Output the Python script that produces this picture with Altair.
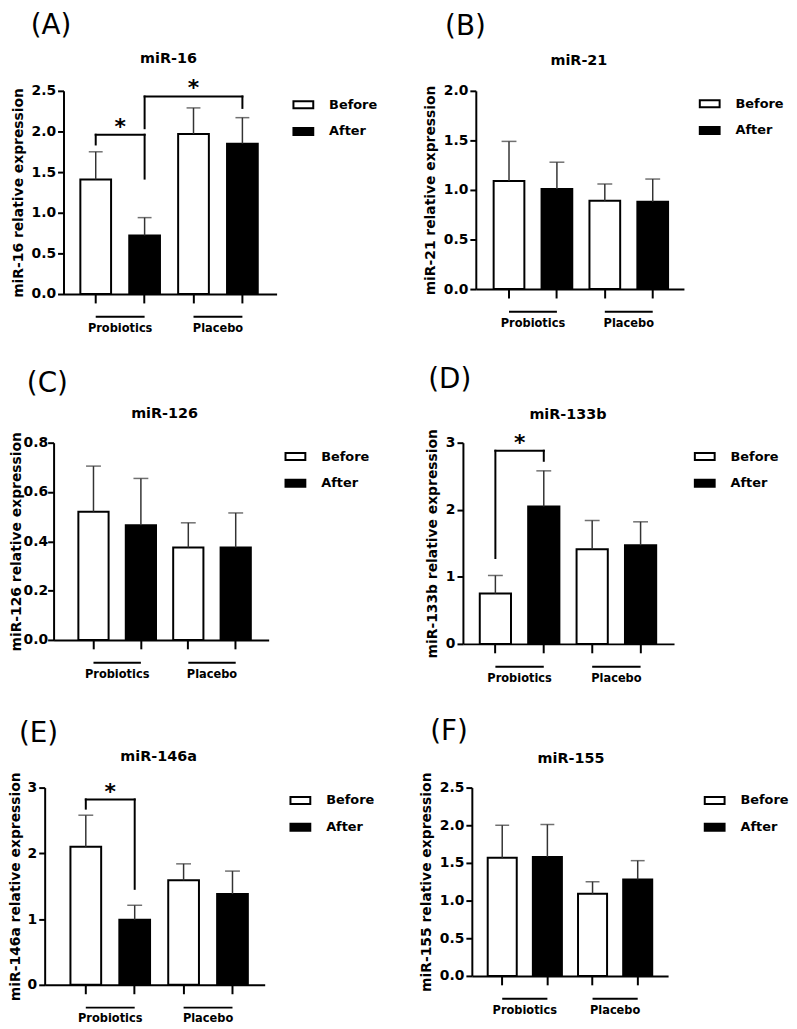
import altair as alt
import pandas as pd

FONT = "DejaVu Sans"

groups = ["Probiotics", "Placebo"]
times = ["Before", "After"]
keys = ["Probiotics|Before", "Probiotics|After", "Placebo|Before", "Placebo|After"]

panel_letters = ["(A)", "(B)", "(C)", "(D)", "(E)", "(F)"]
mirnas = ["miR-16", "miR-21", "miR-126", "miR-133b", "miR-146a", "miR-155"]

# mean and upper error (SEM) per bar: Prob-Before, Prob-After, Plac-Before, Plac-After
mean_16 = [1.41, 0.72, 1.97, 1.85]
err_16 = [0.34, 0.22, 0.32, 0.32]
mean_21 = [1.09, 1.01, 0.89, 0.88]
err_21 = [0.40, 0.27, 0.17, 0.23]
mean_126 = [0.52, 0.465, 0.375, 0.375]
err_126 = [0.185, 0.19, 0.10, 0.14]
mean_133b = [0.75, 2.05, 1.41, 1.47]
err_133b = [0.27, 0.53, 0.43, 0.35]
mean_146a = [2.10, 0.99, 1.59, 1.38]
err_146a = [0.48, 0.22, 0.25, 0.35]
mean_155 = [1.57, 1.58, 1.09, 1.28]
err_155 = [0.43, 0.43, 0.16, 0.25]

ticks_16 = [0, 0.5, 1.0, 1.5, 2.0, 2.5]
ticks_21 = [0, 0.5, 1.0, 1.5, 2.0]
ticks_126 = [0, 0.2, 0.4, 0.6, 0.8]
ticks_133b = [0, 1, 2, 3]
ticks_146a = [0, 1, 2, 3]
ticks_155 = [0, 0.5, 1.0, 1.5, 2.0, 2.5]

# significance brackets: (from, to, left start, top, right end, star level)
brackets_16 = [("Probiotics|Before", "Probiotics|After", 1.84, 1.96, 1.42, 2.12),
               ("Probiotics|After", "Placebo|After", 2.04, 2.43, 2.29, 2.60)]
brackets_21 = []
brackets_126 = []
brackets_133b = [("Probiotics|Before", "Probiotics|After", 1.28, 2.88, 2.73, 3.07)]
brackets_146a = [("Probiotics|Before", "Probiotics|After", 2.68, 2.82, 1.46, 3.01)]
brackets_155 = []

means = [mean_16, mean_21, mean_126, mean_133b, mean_146a, mean_155]
errs = [err_16, err_21, err_126, err_133b, err_146a, err_155]
ticks = [ticks_16, ticks_21, ticks_126, ticks_133b, ticks_146a, ticks_155]
brackets = [brackets_16, brackets_21, brackets_126, brackets_133b, brackets_146a, brackets_155]
formats = [".1f", ".1f", ".1f", "d", "d", ".1f"]

# layout / style per panel (pixels); s = inward shift of the y axis inside the panel
layouts = [
    dict(W=215, H=205, s=19, bw=31, L=17, R=19, lx=-33, ly=-65, tx=106, ty=-32, legx=231, legy=3, tpad=6, lpad=2, cap=14),
    dict(W=210, H=200, s=0, bw=31, L=18, R=16, lx=-31, ly=-64, tx=104, ty=-30, legx=225, legy=2, tpad=6, lpad=2, cap=15),
    dict(W=217, H=199, s=9, bw=30.5, L=25, R=18, lx=-27, ly=-59, tx=112, ty=-29, legx=233, legy=3, tpad=0, lpad=0, cap=15),
    dict(W=213, H=203, s=0, bw=31.5, L=17, R=18, lx=-35, ly=-63, tx=106, ty=-28, legx=233, legy=3, tpad=6, lpad=2, cap=15),
    dict(W=222, H=199, s=0, bw=31, L=26, R=17, lx=-26, ly=-54, tx=115, ty=-31, legx=247, legy=2, tpad=5, lpad=2, cap=15),
    dict(W=198, H=190, s=0, bw=29.3, L=16, R=16, lx=-42, ly=-56, tx=100, ty=-29, legx=234, legy=2, tpad=6, lpad=2, cap=14),
]


def make_panel(i):
    name = mirnas[i]
    lay = layouts[i]
    W, H, s, bw, L, R = lay["W"], lay["H"], lay["s"], lay["bw"], lay["L"], lay["R"]
    g = (W - L - R - 4 * bw) / 3.0
    step = bw + g
    pi = g / step
    po = (L + R) / (2 * step)
    al = L / (L + R)

    df = pd.DataFrame({
        "key": keys,
        "group": [k.split("|")[0] for k in keys],
        "time": [k.split("|")[1] for k in keys],
        "mean": means[i],
        "upper": [m + e for m, e in zip(means[i], errs[i])],
    })
    gdf = pd.DataFrame({"group": groups, "k1": [keys[0], keys[2]], "k2": [keys[1], keys[3]]})
    tdf = pd.DataFrame({"letter": [panel_letters[i]], "title": [name]})

    ytitle = f"{name} relative expression"
    xscale = alt.Scale(domain=keys, paddingInner=pi, paddingOuter=po, align=al, range=[s, s + W])
    yscale = alt.Scale(domain=[ticks[i][0], ticks[i][-1]], nice=False, zero=True)
    xaxis = alt.Axis(labels=False, title=None, ticks=True, tickSize=9, tickWidth=2,
                     domainWidth=2, domainColor="black", tickColor="black", grid=False)
    yaxis = alt.Axis(values=ticks[i], format=formats[i], tickSize=6, tickWidth=2, domainWidth=2,
                     offset=-s, labelPadding=lay["lpad"], titlePadding=lay["tpad"],
                     labelFontSize=14, titleFontSize=14,
                     labelFont=FONT, titleFont=FONT, labelFontWeight="bold", titleFontWeight="bold",
                     labelColor="black", titleColor="black", domainColor="black", tickColor="black",
                     grid=False, title=ytitle)

    def X(field, **kw):
        return alt.X(f"{field}:N", scale=xscale, axis=xaxis, title=None, **kw)

    def Y(field):
        return alt.Y(f"{field}:Q", scale=yscale, axis=yaxis, title=ytitle)

    base = alt.Chart(df)
    bars = base.mark_bar(stroke="black", strokeWidth=2).encode(
        x=X("key"),
        y=Y("mean"),
        fill=alt.Fill("time:N", scale=alt.Scale(domain=times, range=["white", "black"]),
                      legend=alt.Legend(title=None, orient="none", legendX=lay["legx"] + s, legendY=lay["legy"],
                                        direction="vertical", symbolType="M-1,-0.35H1V0.35H-1Z",
                                        symbolSize=400, symbolStrokeColor="black", symbolStrokeWidth=2,
                                        symbolOpacity=1, labelFont=FONT, labelFontSize=13,
                                        labelFontWeight="bold", labelColor="black", labelOffset=15,
                                        rowPadding=8, padding=0)),
    )
    err = base.mark_rule(color="#333", strokeWidth=1.5).encode(
        x=X("key", bandPosition=0.5), y=Y("mean"), y2=alt.Y2("upper:Q"))
    cap = base.mark_tick(color="#333", thickness=1.5, size=lay["cap"]).encode(
        x=X("key", bandPosition=0.5), y=Y("upper"))

    gbase = alt.Chart(gdf)
    grule = gbase.mark_rule(color="black", strokeWidth=2).encode(
        x=X("k1", bandPosition=0.5), x2=alt.X2("k2:N", bandPosition=0.5), y=alt.value(H + 23))
    gtext = gbase.mark_text(font=FONT, fontSize=11.5, fontWeight="bold", color="black",
                            baseline="middle", align="center", dx=step / 2).encode(
        x=X("k1", bandPosition=0.5), y=alt.value(H + 35), text="group:N")

    tbase = alt.Chart(tdf)
    letter = tbase.mark_text(font=FONT, fontSize=28, fontWeight="normal", color="black",
                             align="left", baseline="middle").encode(
        x=alt.value(lay["lx"] + s), y=alt.value(lay["ly"]), text="letter:N")
    title = tbase.mark_text(font=FONT, fontSize=14.5, fontWeight="bold", color="black",
                            align="center", baseline="middle").encode(
        x=alt.value(lay["tx"] + s), y=alt.value(lay["ty"]), text="title:N")

    layers = [bars, err, cap, grule, gtext]
    for (k1, k2, y1, yt, y2, ys) in brackets[i]:
        bdf = pd.DataFrame({"k1": [k1], "k2": [k2], "y1": [y1], "yt": [yt], "y2": [y2],
                            "ys": [ys], "star": ["*"]})
        bb = alt.Chart(bdf)
        layers.append(bb.mark_rule(color="black", strokeWidth=2, strokeCap="square").encode(
            x=X("k1", bandPosition=0.5), y=Y("y1"), y2=alt.Y2("yt:Q")))
        layers.append(bb.mark_rule(color="black", strokeWidth=2, strokeCap="square").encode(
            x=X("k2", bandPosition=0.5), y=Y("y2"), y2=alt.Y2("yt:Q")))
        layers.append(bb.mark_rule(color="black", strokeWidth=2, strokeCap="square").encode(
            x=X("k1", bandPosition=0.5), x2=alt.X2("k2:N", bandPosition=0.5), y=Y("yt")))
        diff = keys.index(k2) - keys.index(k1)
        layers.append(bb.mark_text(font=FONT, fontSize=22, fontWeight="bold", color="black",
                                   align="center", baseline="alphabetic", dx=diff * step / 2, dy=12).encode(
            x=X("k1", bandPosition=0.5), y=Y("ys"), text="star:N"))
    layers += [letter, title]
    return alt.layer(*layers).properties(width=W + s, height=H)


def indep(c):
    return c.resolve_scale(fill="independent").resolve_legend(fill="independent")


panels = [make_panel(i) for i in range(6)]
row1 = indep(alt.hconcat(panels[0], panels[1], spacing=46))
row2 = indep(alt.hconcat(panels[2], panels[3], spacing=56))
row3 = indep(alt.hconcat(panels[4], panels[5], spacing=45))

top = indep(alt.vconcat(row1, row2, spacing=32))
chart = indep(alt.vconcat(top, row3, spacing=34)).properties(
    padding=0, background="white"
).configure_view(stroke=None)

chart.save("out.html", embed_options={"renderer": "svg", "actions": False})
